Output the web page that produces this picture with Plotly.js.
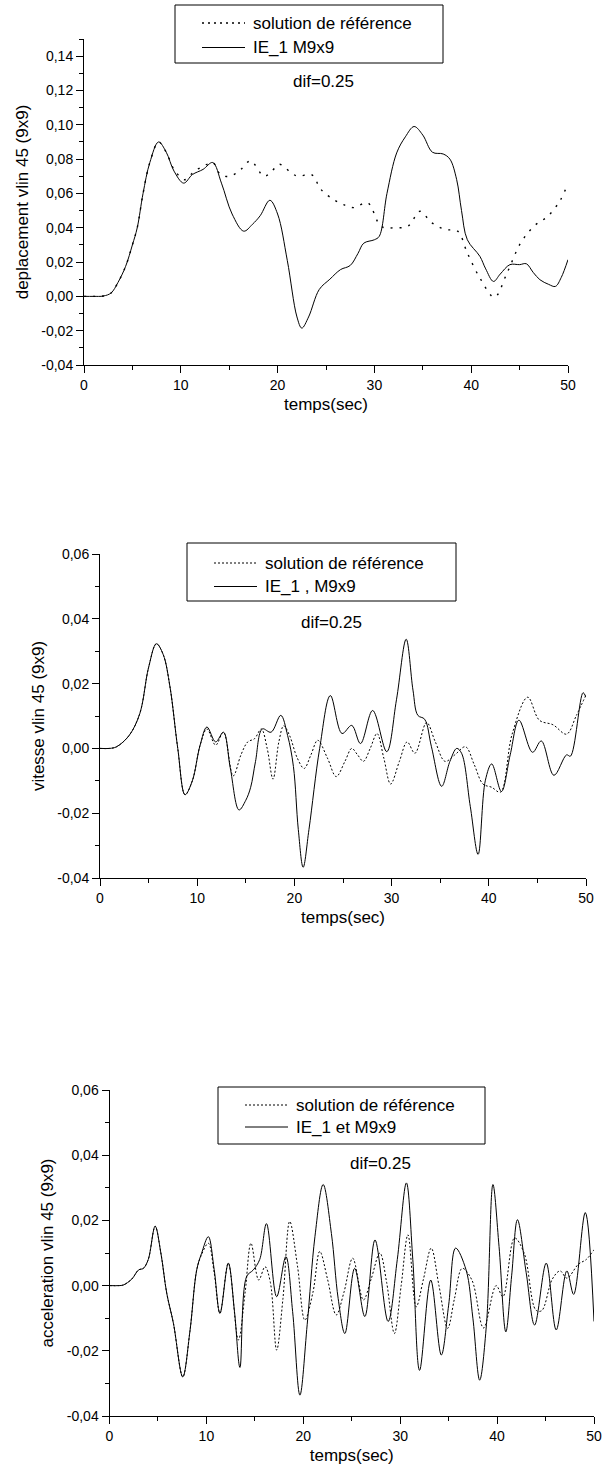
<!DOCTYPE html>
<html>
<head>
<meta charset="utf-8">
<script src="https://cdn.plot.ly/plotly-3.0.1.min.js"></script>
<style>html,body{margin:0;padding:0;background:#fff;}#chart{width:602px;height:1472px;}</style>
</head>
<body>
<div id="chart"></div>
<script>
// ---------- DATA ----------
const seriesNames = ["solution de référence", "IE_1 M9x9", "IE_1 , M9x9", "IE_1 et M9x9"];
const xTitle = "temps(sec)";
const yTitles = ["deplacement vlin 45 (9x9)", "vitesse vlin 45 (9x9)", "acceleration vlin 45 (9x9)"];
const noteText = "dif=0.25";

const xTickVals = [0, 10, 20, 30, 40, 50];
const xTickText = ["0", "10", "20", "30", "40", "50"];
const yTickVals1 = [-0.04, -0.02, 0, 0.02, 0.04, 0.06, 0.08, 0.10, 0.12, 0.14];
const yTickText1 = ["-0,04", "-0,02", "0,00", "0,02", "0,04", "0,06", "0,08", "0,10", "0,12", "0,14"];
const yTickVals23 = [-0.04, -0.02, 0, 0.02, 0.04, 0.06];
const yTickText23 = ["-0,04", "-0,02", "0,00", "0,02", "0,04", "0,06"];

// Panel 1 : displacement
const t1Ref = [0,1,2,2.8,3.5,4.3,5,5.5,6.1,6.8,7.7,8.5,9.3,10.4,11.4,12.4,13.3,14.1,15.1,16.2,17.2,18.6,19.4,20.2,21.4,22.1,23.5,24.5,25.9,27.0,27.9,29.3,30.7,32.1,33.5,34.7,35.9,37.3,38.6,39.6,41.0,42.4,43.7,45.1,46.5,47.9,49.2,50];
const y1Ref = [0,0,0.0002,0.002,0.008,0.0175,0.03,0.04,0.06,0.078,0.09,0.084,0.074,0.068,0.073,0.076,0.078,0.071,0.070,0.074,0.079,0.070,0.073,0.077,0.072,0.070,0.071,0.0622,0.056,0.053,0.0517,0.0545,0.0408,0.040,0.041,0.0496,0.043,0.039,0.038,0.0253,0.0097,-0.0005,0.0136,0.031,0.041,0.0466,0.056,0.066];
const t1Num = [0,1,2,2.8,3.5,4.3,5,5.5,6.1,6.8,7.7,8.5,9.3,10.3,11.2,12.3,13.3,14.2,15.3,16.5,17.4,18.2,19.2,20.0,21.0,22.0,22.5,23.2,24.3,25.4,26.5,27.5,28.3,28.9,30.0,30.5,31.3,32.3,33.2,34.1,35.0,36.0,37.1,37.8,38.5,39.0,39.6,40.9,41.5,42.3,43.0,44.0,45.0,45.7,46.4,47.1,48.0,48.7,49.3,50];
const y1Num = [0,0,0.0002,0.002,0.008,0.0175,0.03,0.04,0.06,0.078,0.09,0.084,0.073,0.066,0.071,0.074,0.078,0.066,0.048,0.038,0.042,0.047,0.056,0.048,0.021,-0.012,-0.0185,-0.012,0.004,0.010,0.0156,0.018,0.025,0.031,0.033,0.035,0.060,0.0836,0.093,0.099,0.094,0.084,0.083,0.080,0.068,0.050,0.033,0.0233,0.016,0.0087,0.013,0.0185,0.0185,0.019,0.014,0.0097,0.007,0.0058,0.011,0.0214];

// Panel 2 : velocity
const t2Ref = [0,1,1.7,3,4.1,5,5.8,6.5,7.2,8.0,8.75,9.5,10.3,11.0,11.9,12.7,13.7,14.5,15.2,15.9,16.6,17.2,17.8,18.4,18.9,19.5,20.3,21.0,21.7,22.4,23.4,24.3,25.2,25.9,26.5,27.1,27.8,28.5,29.2,29.9,30.8,31.6,32.4,33.6,34.5,35.5,36.5,37.6,38.5,39.4,40.3,41.2,42.4,44.0,45.2,46.6,48.0,49.0,50];
const y2Ref = [0,0,0.0005,0.004,0.0108,0.025,0.0323,0.029,0.019,0.000,-0.0143,-0.010,0.001,0.006,0.001,0.005,-0.0085,-0.002,0.002,0.003,0.006,0.000,-0.0095,0.002,0.007,0.004,-0.003,-0.0062,-0.002,0.0025,-0.003,-0.0087,-0.004,0.0,-0.002,-0.004,0.000,0.0046,-0.003,-0.011,-0.004,0.002,-0.0015,0.008,0.002,-0.004,-0.002,0.0005,-0.005,-0.011,-0.012,-0.0135,0.0044,0.0158,0.0087,0.0073,0.0044,0.0101,0.0165];
const t2Num = [0,1,1.7,3,4.1,5,5.8,6.5,7.2,8.0,8.75,9.5,10.3,11.0,11.9,12.7,13.4,14.3,15.0,15.5,16.0,16.7,17.6,18.6,19.3,19.9,20.4,20.9,21.5,22.6,23.7,24.9,25.9,26.8,28.05,29.5,30.5,31.5,32.2,32.7,33.4,34.1,35.15,36.0,36.7,37.2,38.1,38.9,39.65,40.3,41.3,42.2,43.1,44.5,45.4,46.7,48.0,48.4,49.7,50];
const y2Num = [0,0,0.0005,0.004,0.0108,0.025,0.0323,0.029,0.019,0.000,-0.0143,-0.010,0.001,0.0066,0.002,0.005,-0.006,-0.019,-0.016,-0.012,-0.004,0.006,0.005,0.0102,0.004,-0.0056,-0.025,-0.0367,-0.025,0.0,0.0163,0.0046,0.0071,0.0015,0.0117,-0.001,0.015,0.0337,0.018,0.0102,0.009,0.0005,-0.0117,-0.004,0.0,-0.0015,-0.018,-0.0327,-0.0098,-0.0048,-0.0133,-0.002,0.0087,-0.0012,0.0023,-0.0083,-0.002,-0.0024,0.0172,0.0158];

// Panel 3 : acceleration
const t3Ref = [0,1,1.44,2.3,3.0,3.5,4.0,4.71,5.3,5.91,6.6,7.56,8.3,9.0,9.5,10.2,10.8,11.4,12.26,13.3,14.0,14.6,15.4,16.05,16.6,17.25,17.9,18.6,19.4,20.16,21.0,21.7,22.5,23.4,24.2,25.1,26.2,27.0,27.9,28.6,29.4,30.1,30.8,31.65,32.4,33.2,34.0,34.9,35.6,36.4,37.4,38.6,39.9,40.6,41.8,42.8,44.0,44.6,45.7,46.5,47.2,48.4,49.2,50];
const y3Ref = [0,0,0.0002,0.002,0.0048,0.0053,0.008,0.0182,0.010,-0.0024,-0.0116,-0.028,-0.014,0.0048,0.0095,0.013,0.004,-0.0085,0.0069,-0.0167,-0.002,0.013,0.0017,0.0058,0.001,-0.0198,-0.004,0.0197,0.006,-0.0106,-0.002,0.0105,0.002,-0.009,-0.002,0.0084,-0.0044,0.002,0.010,0.001,-0.0147,0.000,0.0156,-0.0065,0.002,0.0115,0.000,-0.0131,-0.004,0.0053,0.0017,-0.013,0.0,-0.0034,0.0146,0.0099,-0.0075,-0.0077,0.002,0.0045,0.0023,0.0066,0.008,0.011];
const t3Num = [0,1,1.44,2.3,3.0,3.5,4.0,4.71,5.3,5.91,6.6,7.56,8.3,9.0,9.5,10.2,10.8,11.4,12.26,12.9,13.46,14.15,14.84,15.5,16.2,17.25,18.2,18.9,19.65,20.4,21.2,22.05,22.9,23.6,24.29,25.3,26.35,27.4,28.75,29.7,30.64,31.3,32.0,33.15,34.24,35.0,35.72,36.8,37.5,38.2,38.9,39.57,40.2,40.9,41.5,42.1,43.0,43.87,45.07,46.1,47.2,47.9,49.1,50];
const y3Num = [0,0,0.0002,0.002,0.0048,0.0053,0.008,0.0182,0.010,-0.0024,-0.0116,-0.028,-0.014,0.0048,0.0099,0.015,0.005,-0.0085,0.0069,-0.008,-0.0251,0.0028,0.0048,0.008,0.019,-0.0034,0.0089,-0.008,-0.0336,-0.012,0.015,0.031,0.016,-0.004,-0.0147,0.0053,-0.0095,0.014,-0.011,0.008,0.0315,0.008,-0.026,0.0017,-0.0213,-0.006,0.0115,0.0048,-0.010,-0.029,-0.012,0.031,0.012,-0.0142,0.003,0.0202,0.004,-0.0121,0.0069,-0.0136,0.0045,-0.0027,0.0224,-0.011];

// ---------- LAYOUT GEOMETRY (pixels) ----------
const W = 602, H = 1472;
const fx = p => p / W;
const fy = p => 1 - p / H;
const FONT = "Liberation Sans, Arial, Helvetica, sans-serif";

const panels = [
  {x0: 84,  x1: 568, top: 39,   bot: 365,  yr: [-0.04, 0.15], tv: yTickVals1, tt: yTickText1,
   box: [175, 443, 5, 63], rows: [23, 47.5], note: [323, 82], dash: "2px,7px", lw: 1.4, legDash: "2px,4px", name: seriesNames[1]},
  {x0: 100, x1: 586, top: 554,  bot: 878,  yr: [-0.04, 0.06], tv: yTickVals23, tt: yTickText23,
   box: [187, 456, 543, 601], rows: [563, 586.5], note: [331, 623], dash: "2px,2px", lw: 1, legDash: "2px,2px", name: seriesNames[2]},
  {x0: 109.5, x1: 594, top: 1090, bot: 1416, yr: [-0.04, 0.06], tv: yTickVals23, tt: yTickText23,
   box: [218, 485, 1087, 1144], rows: [1105, 1127], note: [380, 1163], dash: "2px,2px", lw: 1, legDash: "2px,2px", name: seriesNames[3]}
];
const refT = [t1Ref, t2Ref, t3Ref], refY = [y1Ref, y2Ref, y3Ref];
const numT = [t1Num, t2Num, t3Num], numY = [y1Num, y2Num, y3Num];

const traces = [];
const layout = {
  width: W, height: H, margin: {l: 0, r: 0, t: 0, b: 0},
  paper_bgcolor: "#fff", plot_bgcolor: "rgba(0,0,0,0)",
  showlegend: false, font: {family: FONT, color: "#000"},
  shapes: [], annotations: []
};

panels.forEach((p, i) => {
  const n = i === 0 ? "" : String(i + 1);
  const xa = "x" + n, ya = "y" + n;
  traces.push({x: refT[i], y: refY[i], xaxis: xa, yaxis: ya, type: "scatter", mode: "lines",
    name: seriesNames[0], line: {color: "#000", width: p.lw, dash: p.dash, shape: "spline", smoothing: 1}});
  traces.push({x: numT[i], y: numY[i], xaxis: xa, yaxis: ya, type: "scatter", mode: "lines",
    name: p.name, line: {color: "#000", width: 1, shape: "spline", smoothing: 1}});

  layout["xaxis" + n] = {
    domain: [fx(p.x0), fx(p.x1)], anchor: ya, range: [0, 50],
    tickmode: "array", tickvals: xTickVals, ticktext: xTickText,
    ticks: "outside", ticklen: 7, tickwidth: 1, tickcolor: "#000",
    minor: {tickmode: "linear", tick0: 0, dtick: 5, ticks: "outside", ticklen: 4, tickwidth: 1, tickcolor: "#000", showgrid: false},
    showline: true, linecolor: "#000", linewidth: 1, showgrid: false, zeroline: false,
    tickfont: {family: FONT, size: 14, color: "#000"},
    title: {text: xTitle, font: {family: FONT, size: 17, color: "#000"}, standoff: 6},
    fixedrange: true
  };
  layout["yaxis" + n] = {
    domain: [fy(p.bot), fy(p.top)], anchor: xa, range: p.yr,
    tickmode: "array", tickvals: p.tv, ticktext: p.tt,
    ticks: "outside", ticklen: 7, tickwidth: 1, tickcolor: "#000",
    minor: {tickmode: "linear", tick0: 0, dtick: 0.01, ticks: "outside", ticklen: 4, tickwidth: 1, tickcolor: "#000", showgrid: false},
    showline: true, linecolor: "#000", linewidth: 1, showgrid: false, zeroline: false,
    tickfont: {family: FONT, size: 14, color: "#000"},
    title: {text: yTitles[i], font: {family: FONT, size: 17, color: "#000"}, standoff: 8},
    fixedrange: true
  };

  // legend box
  const [bx0, bx1, by0, by1] = p.box;
  layout.shapes.push({type: "rect", xref: "paper", yref: "paper", x0: fx(bx0), x1: fx(bx1), y0: fy(by1), y1: fy(by0),
    line: {color: "#000", width: 1}, fillcolor: "rgba(0,0,0,0)"});
  layout.shapes.push({type: "line", xref: "paper", yref: "paper", x0: fx(bx0 + 27), x1: fx(bx0 + 70), y0: fy(p.rows[0]), y1: fy(p.rows[0]),
    line: {color: "#000", width: p.lw, dash: p.legDash}});
  layout.shapes.push({type: "line", xref: "paper", yref: "paper", x0: fx(bx0 + 27), x1: fx(bx0 + 70), y0: fy(p.rows[1]), y1: fy(p.rows[1]),
    line: {color: "#000", width: 1}});
  layout.annotations.push({xref: "paper", yref: "paper", x: fx(bx0 + 76), y: fy(p.rows[0]), xanchor: "left", yanchor: "middle",
    text: seriesNames[0], showarrow: false, font: {family: FONT, size: 17, color: "#000"}});
  layout.annotations.push({xref: "paper", yref: "paper", x: fx(bx0 + 76), y: fy(p.rows[1]), xanchor: "left", yanchor: "middle",
    text: p.name, showarrow: false, font: {family: FONT, size: 17, color: "#000"}});
  layout.annotations.push({xref: "paper", yref: "paper", x: fx(p.note[0]), y: fy(p.note[1]), xanchor: "center", yanchor: "middle",
    text: noteText, showarrow: false, font: {family: FONT, size: 17, color: "#000"}});
});

Plotly.newPlot("chart", traces, layout, {displayModeBar: false, staticPlot: true});
</script>
</body>
</html>
